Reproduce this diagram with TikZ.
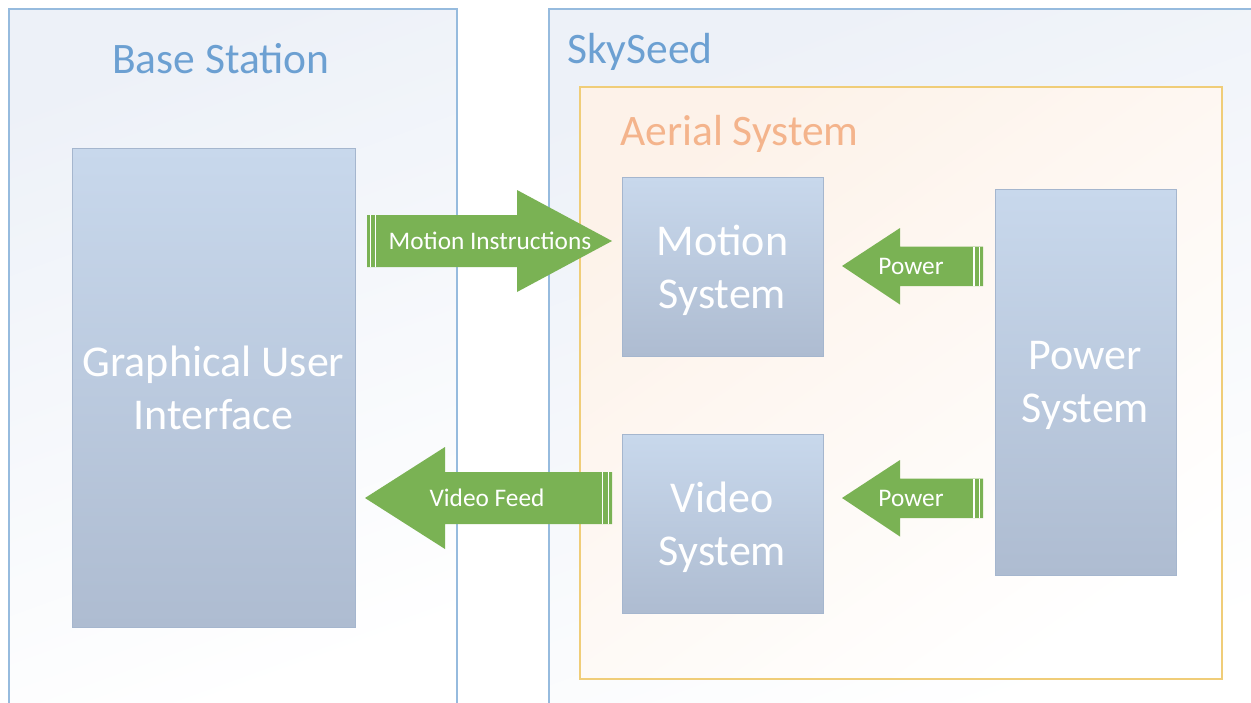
\documentclass[tikz,border=0pt]{standalone}
\usepackage{fontspec}
\setmainfont{Carlito}
\definecolor{frameblue}{RGB}{150,187,222}
\definecolor{titleblue}{RGB}{108,160,210}
\definecolor{bgblue}{RGB}{237,241,248}
\definecolor{aerialborder}{RGB}{240,205,120}
\definecolor{aerialtitle}{RGB}{244,180,140}
\definecolor{bgpeach}{RGB}{253,242,233}
\definecolor{boxtop}{RGB}{200,216,236}
\definecolor{boxbottom}{RGB}{174,188,209}
\definecolor{boxborder}{RGB}{165,182,206}
\definecolor{arrowgreen}{RGB}{122,178,84}
\tikzset{
  region/.style={draw=frameblue, line width=1.3pt, top color=bgblue, bottom color=white, shading angle=20},
  aerial/.style={draw=aerialborder, line width=1.5pt, top color=bgpeach, bottom color=white, shading angle=35},
  title/.style={anchor=base west, inner sep=0pt, font=\fontsize{43.5}{50}\selectfont},
  sysbox/.style={draw=boxborder, line width=1pt, top color=boxtop, bottom color=boxbottom,
    text=white, align=center, text depth=0pt, inner sep=0pt, font=\fontsize{44}{53}\selectfont},
  bigarrow/.style={fill=arrowgreen},
  stripe/.style={draw=white, line width=1.1pt},
  arrowtext/.style={anchor=base, inner sep=0pt, text=white, font=\fontsize{25.3}{30}\selectfont}
}
\begin{document}
\begin{tikzpicture}[x=1pt,y=-1pt]
\clip (0,0) rectangle (1251,702);
\fill[white] (0,0) rectangle (1251,702);
% regions
\path[region] (9,9) rectangle (457,720);
\path[region] (549,9) rectangle (1270,720);
\node[title, text=titleblue] (basetitle) at (112,73) {Base Station};
\node[title, text=titleblue] (skytitle) at (567,63) {SkySeed};
\path[aerial] (580,87) rectangle (1222,679);
\node[title, text=aerialtitle] (aerialtitle) at (620,145) {Aerial System};
% system boxes
\node[sysbox, minimum width=283pt, minimum height=479pt] (gui) at (213.5,387.5) {Graphical User\\Interface};
\node[sysbox, minimum width=201pt, minimum height=179pt] (motion) at (722.5,266.5) {Motion\\System};
\node[sysbox, minimum width=201pt, minimum height=179pt] (video) at (722.5,523.5) {Video\\System};
\node[sysbox, minimum width=181pt, minimum height=386pt] (power) at (1085.5,382) {Power\\System};
% Motion Instructions arrow
\coordinate (mitail) at (367,241);
\coordinate (mitip) at (612,241);
\fill[bigarrow] (mitail) ++(0,-26) -- ++(150,0) -- ++(0,-25) -- (mitip) -- ++(-95,51) -- ++(0,-25) -- ++(-150,0) -- cycle;
\draw[stripe] (mitail) ++(3.5,-26) -- ++(0,52);
\draw[stripe] (mitail) ++(8.5,-26) -- ++(0,52);
\node[arrowtext] (milabel) at (490,249) {Motion Instructions};
% Video Feed arrow
\coordinate (vftail) at (612,498);
\coordinate (vftip) at (365,498);
\fill[bigarrow] (vftail) ++(0,-26) -- ++(-167,0) -- ++(0,-25) -- (vftip) -- ++(80,51) -- ++(0,-25) -- ++(167,0) -- cycle;
\draw[stripe] (vftail) ++(-3.5,-26) -- ++(0,52);
\draw[stripe] (vftail) ++(-9.5,-26) -- ++(0,52);
\node[arrowtext] (vflabel) at (487,506) {Video Feed};
% Power arrows
\coordinate (p1tail) at (983,266);
\coordinate (p1tip) at (842,266);
\fill[bigarrow] (p1tail) ++(0,-19.5) -- ++(-83,0) -- ++(0,-18.5) -- (p1tip) -- ++(58,38.5) -- ++(0,-18.5) -- ++(83,0) -- cycle;
\draw[stripe] (p1tail) ++(-3.5,-19.5) -- ++(0,39);
\draw[stripe] (p1tail) ++(-9,-19.5) -- ++(0,39);
\node[arrowtext] (p1label) at (911,274) {Power};
\coordinate (p2tail) at (983,498);
\coordinate (p2tip) at (842,498);
\fill[bigarrow] (p2tail) ++(0,-19.5) -- ++(-83,0) -- ++(0,-18.5) -- (p2tip) -- ++(58,38.5) -- ++(0,-18.5) -- ++(83,0) -- cycle;
\draw[stripe] (p2tail) ++(-3.5,-19.5) -- ++(0,39);
\draw[stripe] (p2tail) ++(-9,-19.5) -- ++(0,39);
\node[arrowtext] (p2label) at (911,506) {Power};
\end{tikzpicture}
\end{document}
